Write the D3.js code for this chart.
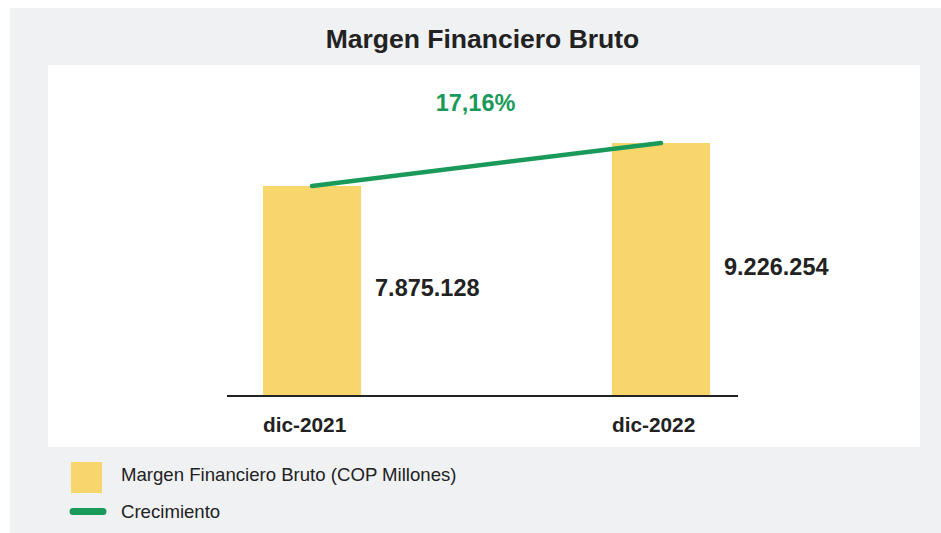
<!DOCTYPE html>
<html>
<head>
<meta charset="utf-8">
<script src="https://cdn.jsdelivr.net/npm/d3@7"></script>
<style>
	body { margin: 0; background: #fff; }
	text { font-family: 'Liberation Sans', Arial, sans-serif; fill: #222; }
</style>
</head>
<body>
<div id="chart"></div>
<script>
// data
const categories = [ 'dic-2021', 'dic-2022' ];
const values = [ 7875128, 9226254 ];
const growthLabel = '17,16%';
const titleText = 'Margen Financiero Bruto';
const legendLabels = [ 'Margen Financiero Bruto (COP Millones)', 'Crecimiento' ];

const barColor = '#f9d66b';
const lineColor = '#1a9a5a';

let dimensions = {
	width  : 941,
	height : 533,
	panel  : { x: 48, y: 65, w: 872, h: 382 },
	plot   : { left: 88.5, right: 884.5, top: 65, bottom: 395 }
};

const formatNum = (v) => d3.format(',')(v).replace(/,/g, '.');

const svg = d3
	.select('#chart')
	.append('svg')
	.attr('width', dimensions.width)
	.attr('height', dimensions.height);

// background
svg.append('rect').attr('x', 10).attr('y', 8).attr('width', dimensions.width - 10).attr('height', dimensions.height - 8).attr('fill', '#f0f1f3');
svg
	.append('rect')
	.attr('x', dimensions.panel.x)
	.attr('y', dimensions.panel.y)
	.attr('width', dimensions.panel.w)
	.attr('height', dimensions.panel.h)
	.attr('fill', '#fff');

svg
	.append('text')
	.attr('x', 482.5)
	.attr('y', 47.5)
	.attr('text-anchor', 'middle')
	.attr('font-size', '26.5px')
	.attr('font-weight', 'bold')
	.text(titleText);

const x = d3
	.scaleBand()
	.domain(categories)
	.range([ dimensions.plot.left, dimensions.plot.right ])
	.paddingInner(0.719)
	.paddingOuter(0.5);

const y = d3
	.scaleLinear()
	.domain([ 1300000, 11680000 ])
	.range([ dimensions.plot.bottom, dimensions.plot.top ]);

// bars
svg
	.selectAll('rect.bar')
	.data(values)
	.enter()
	.append('rect')
	.attr('class', 'bar')
	.attr('x', (d, i) => x(categories[i]))
	.attr('y', (d) => y(d))
	.attr('width', x.bandwidth())
	.attr('height', (d) => y.range()[0] - y(d))
	.attr('fill', barColor);

// baseline axis
svg
	.append('line')
	.attr('x1', 227)
	.attr('x2', 738)
	.attr('y1', dimensions.plot.bottom + 1)
	.attr('y2', dimensions.plot.bottom + 1)
	.attr('stroke', '#222')
	.attr('stroke-width', 2);

// category labels
svg
	.selectAll('text.cat')
	.data(categories)
	.enter()
	.append('text')
	.attr('class', 'cat')
	.attr('x', (d) => x(d))
	.attr('y', 431.5)
	.attr('font-size', '20.8px')
	.attr('font-weight', 'bold')
	.text((d) => d);

// value labels
svg
	.selectAll('text.val')
	.data(values)
	.enter()
	.append('text')
	.attr('class', 'val')
	.attr('x', (d, i) => x(categories[i]) + x.bandwidth() + 14)
	.attr('y', (d) => (y(d) + y.range()[0]) / 2 + 6)
	.attr('font-size', '23.5px')
	.attr('font-weight', 'bold')
	.text((d) => formatNum(d));

// growth line
const line = d3.line().x((d, i) => x(categories[i]) + x.bandwidth() / 2).y((d) => y(d));

svg
	.append('path')
	.datum(values)
	.attr('d', line)
	.attr('fill', 'none')
	.attr('stroke', lineColor)
	.attr('stroke-width', 4.5)
	.attr('stroke-linecap', 'round');

svg
	.append('text')
	.attr('x', (x(categories[0]) + x(categories[1]) + x.bandwidth()) / 2 - 11)
	.attr('y', y(d3.max(values)) - 32)
	.attr('text-anchor', 'middle')
	.attr('font-size', '23.5px')
	.attr('font-weight', 'bold')
	.style('fill', lineColor)
	.text(growthLabel);

// legend
const legend = svg.append('g').attr('transform', 'translate(0,0)');
legend.append('rect').attr('x', 71).attr('y', 462).attr('width', 31).attr('height', 31).attr('fill', barColor);
legend
	.append('line')
	.attr('x1', 73)
	.attr('x2', 103)
	.attr('y1', 511.5)
	.attr('y2', 511.5)
	.attr('stroke', lineColor)
	.attr('stroke-width', 7)
	.attr('stroke-linecap', 'round');
legend
	.selectAll('text.leg')
	.data(legendLabels)
	.enter()
	.append('text')
	.attr('class', 'leg')
	.attr('x', 121)
	.attr('y', (d, i) => 481 + i * 36.5)
	.attr('font-size', '18.6px')
	.text((d) => d);
</script>
</body>
</html>
